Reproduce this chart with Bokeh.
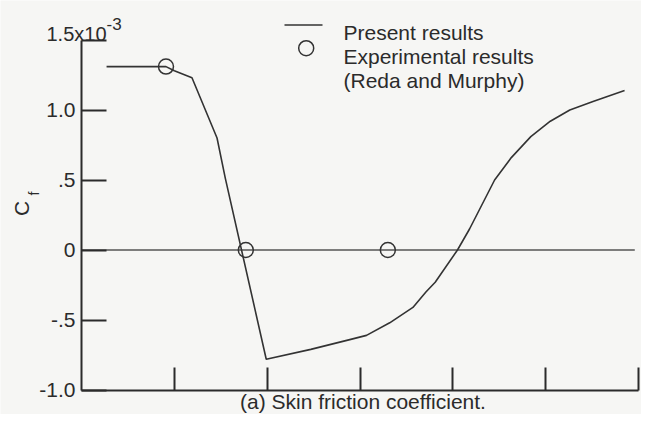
from bokeh.plotting import figure
from bokeh.models import Range1d, FixedTicker, Label
from bokeh.embed import file_html
from bokeh.resources import INLINE

# ---- data (x in axis units, cf in units of 1e-3) ----
present_x = [0.27, 0.91, 1.00, 1.19, 1.46, 1.55, 1.99, 2.47, 2.89, 3.07, 3.32,
             3.57, 3.71, 3.81, 4.05, 4.18, 4.45, 4.63, 4.84, 5.05, 5.26, 5.51, 5.85]
present_cf = [1.31, 1.31, 1.28, 1.23, 0.80, 0.51, -0.78, -0.71, -0.64, -0.61, -0.52,
              -0.41, -0.30, -0.23, 0.00, 0.15, 0.50, 0.66, 0.81, 0.92, 1.00, 1.06, 1.14]
exp_x = [0.91, 1.77, 3.30]
exp_cf = [1.31, 0.00, 0.00]
zero_x = [0.0, 5.96]
zero_cf = [0.0, 0.0]

xtick_values = [1, 2, 3, 4, 5, 6]
ytick_values = [-1.0, -0.5, 0.0, 0.5, 1.0, 1.5]
ytick_labels = ["-1.0", "-.5", "0", ".5", "1.0", ""]

legend_labels = ["Present results", "Experimental results", "(Reda and Murphy)"]
caption = "(a) Skin friction coefficient."

FONT = "Liberation Sans"
INK = "#2b2b2b"
LINE = "#333333"
BG = "#f6f6f4"

W, H = 641, 414
X0PX, X6PX = 81.0, 638.0          # pixel positions of x = 0 and x = 6
Y15PX, YSCALE = 39.5, 140.0       # pixel of y = 1.5, pixels per unit
XSCALE = (X6PX - X0PX) / 6.0

x_start = -X0PX / XSCALE
x_end = 6.0 + (W - X6PX) / XSCALE
y_end = 1.5 + Y15PX / YSCALE
y_start = 1.5 - (H - Y15PX) / YSCALE


def px_x(sx):
    return (sx - X0PX) / XSCALE


def px_y(sy):
    return 1.5 - (sy - Y15PX) / YSCALE


p = figure(width=W, height=H, output_backend="svg", toolbar_location=None,
           x_range=Range1d(x_start, x_end), y_range=Range1d(y_start, y_end),
           min_border=0, min_border_left=0, min_border_right=0,
           min_border_top=0, min_border_bottom=0)
p.background_fill_color = BG
p.border_fill_color = BG
p.outline_line_color = None
p.grid.visible = False

# axes drawn at fixed data locations inside the full-canvas frame
p.xaxis.fixed_location = -1.0
p.xaxis.ticker = FixedTicker(ticks=xtick_values)
p.xaxis.bounds = (0, 6)
p.xaxis.major_label_overrides = {v: "" for v in xtick_values}
p.xaxis.major_tick_in = 23
p.xaxis.major_tick_out = 0

p.yaxis.fixed_location = 0
p.yaxis.ticker = FixedTicker(ticks=ytick_values)
p.yaxis.bounds = (-1.0, 1.5)
p.yaxis.major_label_overrides = dict(zip(ytick_values, ytick_labels))
p.yaxis.major_tick_in = 25
p.yaxis.major_tick_out = 0
p.yaxis.major_label_standoff = 6
p.yaxis.major_label_text_font = FONT
p.yaxis.major_label_text_font_size = "21px"
p.yaxis.major_label_text_color = INK

for ax in (p.xaxis, p.yaxis):
    ax.axis_line_color = INK
    ax.axis_line_width = 2
    ax.major_tick_line_color = INK
    ax.major_tick_line_width = 2
    ax.minor_tick_line_color = None

# zero line
p.line(zero_x, zero_cf, line_color="#555555", line_width=1.3)

# present results curve
p.line(present_x, present_cf, line_color=LINE, line_width=1.6)

# experimental points
p.scatter(exp_x, exp_cf, marker="circle", size=15, fill_color=None,
          line_color=LINE, line_width=1.5)

# legend
p.line([px_x(284), px_x(322)], [px_y(24.5), px_y(24.5)], line_color=LINE, line_width=1.6)
p.scatter([px_x(305.7)], [px_y(47.7)], marker="circle", size=15, fill_color=None,
          line_color=LINE, line_width=1.5)
for txt, sy in zip(legend_labels, [32.3, 56.0, 80.0]):
    p.add_layout(Label(x=px_x(343), y=px_y(sy), text=txt, text_font=FONT,
                       text_font_size="21px", text_color=INK, text_align="left",
                       text_baseline="alphabetic"))

# y-axis top label 1.5x10^-3
p.add_layout(Label(x=px_x(46), y=px_y(33), text="1.5x10", text_font=FONT,
                   text_font_size="20px", text_color=INK, text_align="left",
                   text_baseline="alphabetic"))
p.add_layout(Label(x=px_x(106), y=px_y(23.3), text="-3", text_font=FONT,
                   text_font_size="17px", text_color=INK, text_align="left",
                   text_baseline="alphabetic"))

# y-axis title C_f (rotated)
p.add_layout(Label(x=px_x(21), y=px_y(208), text="C", text_font=FONT, text_font_size="21px",
                   text_color=INK, text_align="center", text_baseline="middle",
                   angle=90, angle_units="deg"))
p.add_layout(Label(x=px_x(33), y=px_y(193), text="f", text_font=FONT, text_font_size="14px",
                   text_color=INK, text_align="center", text_baseline="middle",
                   angle=90, angle_units="deg"))

# caption
p.add_layout(Label(x=px_x(362.5), y=px_y(401), text=caption, text_font=FONT,
                   text_font_size="21px", text_color=INK, text_align="center",
                   text_baseline="middle"))

open("out.html", "w").write(file_html(p, INLINE))
